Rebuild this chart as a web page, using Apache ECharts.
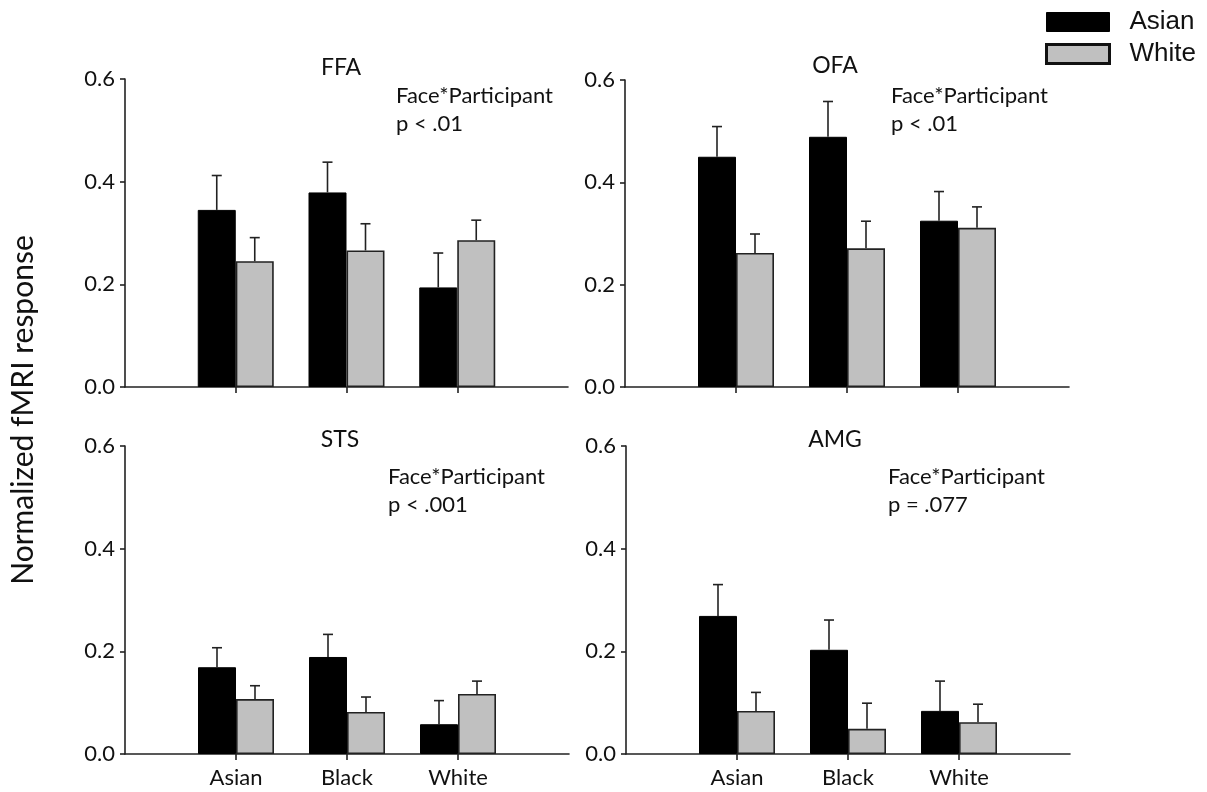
<!DOCTYPE html>
<html>
<head>
<meta charset="utf-8">
<script src="https://cdn.jsdelivr.net/npm/echarts@6/dist/echarts.min.js"></script>
<style>html,body{margin:0;padding:0;background:#fff}#c{width:1207px;height:792px}</style>
</head>
<body>
<div id="c"></div>
<script>
// ---- data ----
const faceCategories = ['', 'Asian', 'Black', 'White', ' '];
const participantGroups = ['Asian', 'White'];
const regionNames = ['FFA', 'OFA', 'STS', 'AMG'];
const statLine1 = ['Face*Participant', 'Face*Participant', 'Face*Participant', 'Face*Participant'];
const statLine2 = ['p < .01', 'p < .01', 'p < .001', 'p = .077'];
const yTicks = [0, 0.2, 0.4, 0.6];

const ffaAsian = [0.345, 0.379, 0.194];
const ffaAsianSE = [0.067, 0.059, 0.067];
const ffaWhite = [0.245, 0.266, 0.286];
const ffaWhiteSE = [0.046, 0.052, 0.039];

const ofaAsian = [0.450, 0.489, 0.325];
const ofaAsianSE = [0.059, 0.069, 0.057];
const ofaWhite = [0.262, 0.271, 0.311];
const ofaWhiteSE = [0.037, 0.053, 0.041];

const stsAsian = [0.169, 0.189, 0.058];
const stsAsianSE = [0.038, 0.044, 0.046];
const stsWhite = [0.107, 0.082, 0.117];
const stsWhiteSE = [0.026, 0.029, 0.025];

const amgAsian = [0.269, 0.203, 0.084];
const amgAsianSE = [0.061, 0.058, 0.058];
const amgWhite = [0.084, 0.049, 0.062];
const amgWhiteSE = [0.036, 0.050, 0.035];

const panels = [
  {asian: ffaAsian, asianSE: ffaAsianSE, white: ffaWhite, whiteSE: ffaWhiteSE},
  {asian: ofaAsian, asianSE: ofaAsianSE, white: ofaWhite, whiteSE: ofaWhiteSE},
  {asian: stsAsian, asianSE: stsAsianSE, white: stsWhite, whiteSE: stsWhiteSE},
  {asian: amgAsian, asianSE: amgAsianSE, white: amgWhite, whiteSE: amgWhiteSE}
];

// ---- layout / style ----
const FONT = 'Lato';
const INK = '#111';
const BAR_W = 38;
const grids = [
  {left: 125, top: 79, width: 443, height: 308},
  {left: 625, top: 80, width: 444, height: 307},
  {left: 125, top: 446, width: 444, height: 308},
  {left: 626, top: 446, width: 444, height: 308}
];
const titlePos = [[341, 68], [835, 66], [340, 440], [835, 440]];
const statPos = [[396, 96, 124], [891, 96, 124], [388, 477, 505], [888, 477, 505]];

const xAxes = [], yAxes = [], series = [], graphics = [];

function errSeries(gi, means, ses, dir) {
  return {
    type: 'custom', xAxisIndex: gi, yAxisIndex: gi, z: 5, silent: true,
    data: means.map((m, i) => [i + 1, m, ses[i]]),
    encode: {x: 0, y: 1},
    renderItem: function (params, api) {
      const c = api.value(0), m = api.value(1), s = api.value(2);
      const p0 = api.coord([c, m]);
      const p1 = api.coord([c, m + s]);
      const x = p0[0] + dir * BAR_W / 2;
      return {
        type: 'group',
        children: [
          {type: 'line', shape: {x1: x, y1: p0[1], x2: x, y2: p1[1]}, style: {stroke: '#222', lineWidth: 1.6}},
          {type: 'line', shape: {x1: x - 5, y1: p1[1], x2: x + 5, y2: p1[1]}, style: {stroke: '#222', lineWidth: 1.6}}
        ]
      };
    }
  };
}

panels.forEach((p, gi) => {
  const bottom = gi >= 2;
  xAxes.push({
    gridIndex: gi, type: 'category', data: faceCategories, boundaryGap: false,
    axisLine: {lineStyle: {color: '#222', width: 1.6}},
    axisTick: {length: 6, lineStyle: {color: '#222', width: 1.6}, interval: (i) => i > 0 && i < 4},
    axisLabel: {show: bottom, interval: (i) => i > 0 && i < 4, color: INK, fontFamily: FONT, fontSize: 22, margin: 13}
  });
  yAxes.push({
    gridIndex: gi, type: 'value', min: yTicks[0], max: yTicks[yTicks.length - 1], interval: yTicks[1] - yTicks[0],
    axisLine: {show: true, lineStyle: {color: '#222', width: 1.6}},
    axisTick: {show: true, length: 5, lineStyle: {color: '#222', width: 1.6}},
    splitLine: {show: false},
    axisLabel: {color: INK, fontFamily: FONT, fontSize: 22, margin: 10, formatter: (v) => v.toFixed(1)}
  });
  series.push({
    name: participantGroups[0], type: 'bar', xAxisIndex: gi, yAxisIndex: gi,
    barWidth: BAR_W, barGap: '0%',
    data: p.asian.map((v, i) => [i + 1, v]),
    itemStyle: {color: '#000', borderColor: '#000', borderWidth: 1}
  });
  series.push({
    name: participantGroups[1], type: 'bar', xAxisIndex: gi, yAxisIndex: gi,
    barWidth: BAR_W, barGap: '0%',
    data: p.white.map((v, i) => [i + 1, v]),
    itemStyle: {color: '#c0c0c0', borderColor: '#222', borderWidth: 1.6}
  });
  series.push(errSeries(gi, p.asian, p.asianSE, -1));
  series.push(errSeries(gi, p.white, p.whiteSE, 1));

  graphics.push({type: 'text', x: titlePos[gi][0], y: titlePos[gi][1],
    style: {text: regionNames[gi], fill: INK, font: '23px ' + FONT, textAlign: 'center', textVerticalAlign: 'middle'}});
  graphics.push({type: 'text', x: statPos[gi][0], y: statPos[gi][1],
    style: {text: statLine1[gi], fill: INK, font: '22px ' + FONT, textAlign: 'left', textVerticalAlign: 'middle'}});
  graphics.push({type: 'text', x: statPos[gi][0], y: statPos[gi][2],
    style: {text: statLine2[gi], fill: INK, font: '22px ' + FONT, textAlign: 'left', textVerticalAlign: 'middle'}});
});

graphics.push({type: 'text', x: 23, y: 410, rotation: Math.PI / 2,
  style: {text: 'Normalized fMRI response', fill: INK, font: '30px ' + FONT, textAlign: 'center', textVerticalAlign: 'middle'}});

const chart = echarts.init(document.getElementById('c'), null, {renderer: 'canvas'});
chart.setOption({
  animation: false,
  backgroundColor: '#fff',
  grid: grids,
  xAxis: xAxes,
  yAxis: yAxes,
  legend: {
    orient: 'vertical', left: 1045, top: 9, padding: 0, itemWidth: 63, itemHeight: 19, itemGap: 6,
    icon: 'rect',
    data: [
      {name: participantGroups[0], itemStyle: {color: '#000', borderColor: '#000', borderWidth: 1}},
      {name: participantGroups[1], itemStyle: {color: '#c0c0c0', borderColor: '#111', borderWidth: 3}}
    ],
    textStyle: {color: INK, fontFamily: 'Liberation Sans', fontSize: 26, lineHeight: 19, padding: [0, 0, 0, 15]}
  },
  series: series,
  graphic: graphics
});
</script>
</body>
</html>
